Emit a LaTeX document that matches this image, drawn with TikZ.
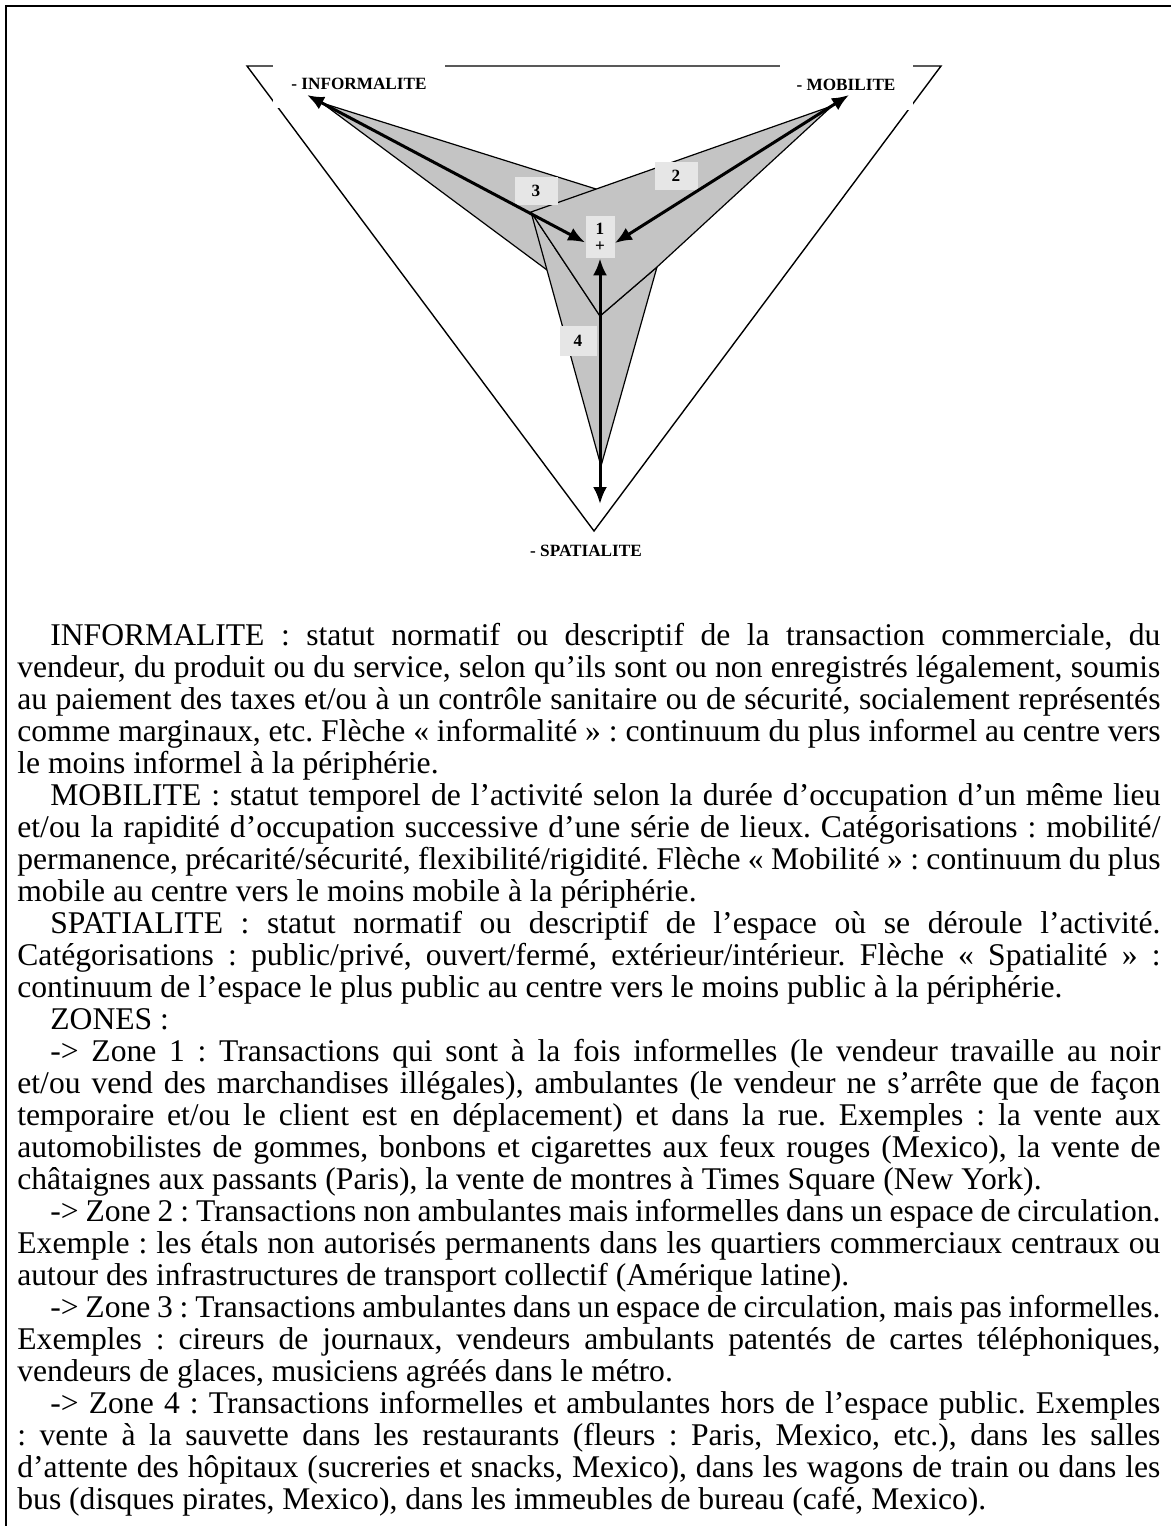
\documentclass[tikz,border=0pt]{standalone}
\usepackage{fontspec}
\setmainfont{Liberation Serif}
\usetikzlibrary{arrows.meta}

\definecolor{shade}{RGB}{196,196,196}
\definecolor{zonefill}{RGB}{230,230,230}

\newlength\linew \setlength\linew{571.5pt}
\newlength\firstind \setlength\firstind{16.5pt}
\newcommand\jline[1]{\hbox to \linew{#1}}
\newcommand\eline[1]{\hbox to \linew{#1\hfil}}
\newcommand\iline[1]{\hbox to \linew{\hskip\firstind #1}}
\newcommand\ieline[1]{\hbox to \linew{\hskip\firstind #1\hfil}}
\newcommand\bodyfont{\fontsize{15.8}{16}\selectfont\frenchspacing
  \spaceskip=0.25em plus 0.6em minus 0.15em\relax}

\tikzset{
  frame/.style={line width=1pt},
  outline/.style={line width=0.7pt},
  kite/.style={fill=shade, draw=black, line width=0.6pt, line join=round},
  axislabel/.style={fill=white, inner sep=0pt, font=\fontsize{8.6}{10}\selectfont\bfseries},
  zonebox/.style={fill=zonefill, inner sep=0pt, font=\fontsize{8.6}{8.6}\selectfont\bfseries},
  dbl/.style={{Latex[length=8.5pt,width=7pt]}-{Latex[length=8.5pt,width=7pt]}, line width=1.5pt}
}

\begin{document}
\begin{tikzpicture}[x=0.5pt,y=-0.5pt]
          \useasboundingbox (0,0) rectangle (1171,1526);
          \draw[frame] (1171,6) -- (6,6) -- (6,1526);

          \coordinate (TL) at (247,66);
          \coordinate (TR) at (941,66);
          \coordinate (apex) at (594,531);
          \draw[outline] (TL) -- (TR) -- (apex) -- cycle;

          \node[axislabel, minimum width=86pt, minimum height=24pt] (inf) at (359,84) {- INFORMALITE};
          \node[axislabel, minimum width=66.5pt, minimum height=25pt] (mob) at (846,85) {- MOBILITE};
          \node[axislabel] (spa) at (586,551) {- SPATIALITE};

          \coordinate (PI) at (322,103);
          \coordinate (PM) at (832,106);
          \coordinate (K) at (531,212);
          \coordinate (A) at (596,189);
          \coordinate (C) at (600,316);
          \coordinate (L) at (547,270);
          \coordinate (R) at (657,267);
          \coordinate (B) at (601,466);

          \filldraw[kite] (PI) -- (A) -- (C) -- (L) -- cycle;
          \filldraw[kite] (K) -- (C) -- (R) -- (B) -- cycle;
          \filldraw[kite] (PM) -- (K) -- (C) -- (R) -- cycle;

          \node[zonebox, minimum width=14.5pt, minimum height=21pt, align=center] (z1) at (600,237) {1\\+};
          \node[zonebox, minimum width=21.5pt, minimum height=14pt] (z2) at (676,176) {2};
          \node[zonebox, minimum width=21.5pt, minimum height=14pt] (z3) at (536,191) {3};
          \node[zonebox, minimum width=18.5pt, minimum height=15pt] (z4) at (578,341) {4};

          \coordinate (infTip) at (307,95);
          \coordinate (mobTip) at (849,95);
          \coordinate (spaTip) at (600,504);
          \draw[dbl] (infTip) -- (z1.200);
          \draw[dbl] (mobTip) -- (z1.338);
          \draw[dbl] (spaTip) -- (z1.south);

          \node[anchor=base west, inner sep=0pt, font=\bodyfont] (notes) at (17,645) {\vtop{%
            \baselineskip=16pt \lineskiplimit=-\maxdimen
            \iline{INFORMALITE : statut normatif ou descriptif de la transaction commerciale, du}
            \jline{vendeur, du produit ou du service, selon qu’ils sont ou non enregistrés légalement, soumis}
            \jline{au paiement des taxes et/ou à un contrôle sanitaire ou de sécurité, socialement représentés}
            \jline{comme marginaux, etc. Flèche « informalité » : continuum du plus informel au centre vers}
            \eline{le moins informel à la périphérie.}
            \iline{MOBILITE : statut temporel de l’activité selon la durée d’occupation d’un même lieu}
            \jline{et/ou la rapidité d’occupation successive d’une série de lieux. Catégorisations : mobilité/}
            \jline{permanence, précarité/sécurité, flexibilité/rigidité. Flèche « Mobilité » : continuum du plus}
            \eline{mobile au centre vers le moins mobile à la périphérie.}
            \iline{SPATIALITE : statut normatif ou descriptif de l’espace où se déroule l’activité.}
            \jline{Catégorisations : public/privé, ouvert/fermé, extérieur/intérieur. Flèche « Spatialité » :}
            \eline{continuum de l’espace le plus public au centre vers le moins public à la périphérie.}
            \ieline{ZONES :}
            \iline{-> Zone 1 : Transactions qui sont à la fois informelles (le vendeur travaille au noir}
            \jline{et/ou vend des marchandises illégales), ambulantes (le vendeur ne s’arrête que de façon}
            \jline{temporaire et/ou le client est en déplacement) et dans la rue. Exemples : la vente aux}
            \jline{automobilistes de gommes, bonbons et cigarettes aux feux rouges (Mexico), la vente de}
            \eline{châtaignes aux passants (Paris), la vente de montres à Times Square (New York).}
            \iline{-> Zone 2 : Transactions non ambulantes mais informelles dans un espace de circulation.}
            \jline{Exemple : les étals non autorisés permanents dans les quartiers commerciaux centraux ou}
            \eline{autour des infrastructures de transport collectif (Amérique latine).}
            \iline{-> Zone 3 : Transactions ambulantes dans un espace de circulation, mais pas informelles.}
            \jline{Exemples : cireurs de journaux, vendeurs ambulants patentés de cartes téléphoniques,}
            \eline{vendeurs de glaces, musiciens agréés dans le métro.}
            \iline{-> Zone 4 : Transactions informelles et ambulantes hors de l’espace public. Exemples}
            \jline{: vente à la sauvette dans les restaurants (fleurs : Paris, Mexico, etc.), dans les salles}
            \jline{d’attente des hôpitaux (sucreries et snacks, Mexico), dans les wagons de train ou dans les}
            \eline{bus (disques pirates, Mexico), dans les immeubles de bureau (café, Mexico).}
          }};
\end{tikzpicture}
\end{document}
